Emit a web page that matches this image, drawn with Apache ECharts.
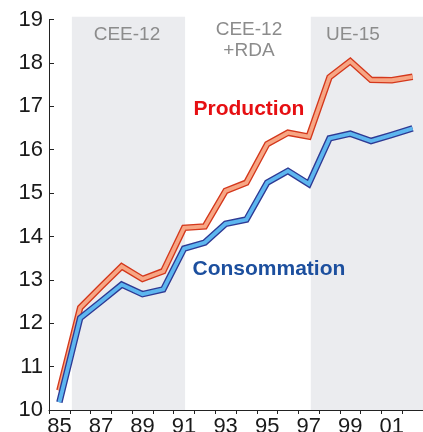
<!DOCTYPE html>
<html><head><meta charset="utf-8">
<script src="https://cdn.jsdelivr.net/npm/echarts@6/dist/echarts.min.js"></script>
<style>html,body{margin:0;padding:0;background:#fff}#c{width:423px;height:432px}</style>
</head><body><div id="c"></div>
<script>
// Data
const years = ['85','86','87','88','89','90','91','92','93','94','95','96','97','98','99','00','01','02'];
const production   = [10.45, 12.36, 12.84, 13.31, 13.02, 13.20, 14.20, 14.23, 15.05, 15.24, 16.13, 16.39, 16.30, 17.67, 18.04, 17.61, 17.60, 17.68];
const consommation = [10.18, 12.12, 12.50, 12.89, 12.67, 12.78, 13.72, 13.86, 14.29, 14.39, 15.24, 15.51, 15.21, 16.26, 16.37, 16.20, 16.34, 16.49];
const periodNames = ['CEE-12', 'CEE-12\n+RDA', 'UE-15'];
const periodStart = [85.6, 91.05, 97.1];
const periodEnd   = [91.05, 97.1, 102.5];
const periodShaded = [true, false, true];

const FONT = 'Liberation Sans, Arial, sans-serif';
const chart = echarts.init(document.getElementById('c'), null, {renderer: 'canvas'});

const bandData = periodNames.map((n, i) => [
  {
    xAxis: periodStart[i],
    itemStyle: {color: periodShaded[i] ? '#ebecef' : 'rgba(0,0,0,0)'},
    label: {
      show: true, formatter: n, position: 'insideTop',
      distance: i === 1 ? 3 : 7.5,
      offset: i === 2 ? [-14, 0] : (i === 0 ? [-1.5, 0] : [1, 0]),
      color: '#8c8c8c', fontSize: 19, fontFamily: FONT, lineHeight: 20.5, align: 'center'
    }
  },
  {xAxis: periodEnd[i]}
]);

function lineSeries(name, data, outer, inner, w1, w2) {
  return [
    {name: name, type: 'line', data: data, symbol: 'none', silent: true,
     lineStyle: {width: w1, color: outer, join: 'miter', cap: 'butt'}, z: 3},
    {name: name + '_in', type: 'line', data: data, symbol: 'none', silent: true,
     lineStyle: {width: w2, color: inner, join: 'miter', cap: 'butt'}, z: 3}
  ];
}

chart.setOption({
  animation: false,
  backgroundColor: '#ffffff',
  grid: [
    {left: 49, right: 0, top: 19.5, bottom: 22, containLabel: false, outerBoundsMode: 'none'},
    {left: 49, right: 0, top: 16.7, bottom: 22, containLabel: false, outerBoundsMode: 'none'}
  ],
  xAxis: [
    {type: 'category', gridIndex: 0, data: years, boundaryGap: true, z: 10,
     axisLine: {show: true, lineStyle: {color: '#222', width: 1}},
     axisTick: {show: true, inside: false, length: 4, interval: 0, alignWithLabel: false, lineStyle: {color: '#222'}},
     axisLabel: {interval: 1, fontSize: 22, fontFamily: FONT, color: '#1a1a1a', margin: 6},
     splitLine: {show: false}},
    {type: 'value', gridIndex: 1, min: 84.5, max: 102.5, show: false}
  ],
  yAxis: [
    {type: 'value', gridIndex: 0, min: 10, max: 19, interval: 1, z: 10,
     axisLine: {show: true, lineStyle: {color: '#222', width: 1}},
     axisTick: {show: true, inside: true, length: 5, lineStyle: {color: '#222'}},
     axisLabel: {fontSize: 22, fontFamily: FONT, color: '#1a1a1a', margin: 6},
     splitLine: {show: false}},
    {type: 'value', gridIndex: 1, min: 0, max: 1, show: false}
  ],
  series: [
    {type: 'line', xAxisIndex: 1, yAxisIndex: 1, data: [], silent: true, z: 1,
     markArea: {silent: true, data: bandData}},
    ...lineSeries('Production', production, '#d4381c', '#f7a684', 6.5, 3.8),
    ...lineSeries('Consommation', consommation, '#2e3a94', '#5db6ef', 6.5, 3.8)
  ],
  graphic: [
    {type: 'text', left: 193.5, top: 99, z: 20,
     style: {text: 'Production', font: 'bold 21px ' + FONT, fill: '#e60f12'}},
    {type: 'text', left: 192.5, top: 259, z: 20,
     style: {text: 'Consommation', font: 'bold 21px ' + FONT, fill: '#1c4f9e'}}
  ]
});
</script>
</body></html>
